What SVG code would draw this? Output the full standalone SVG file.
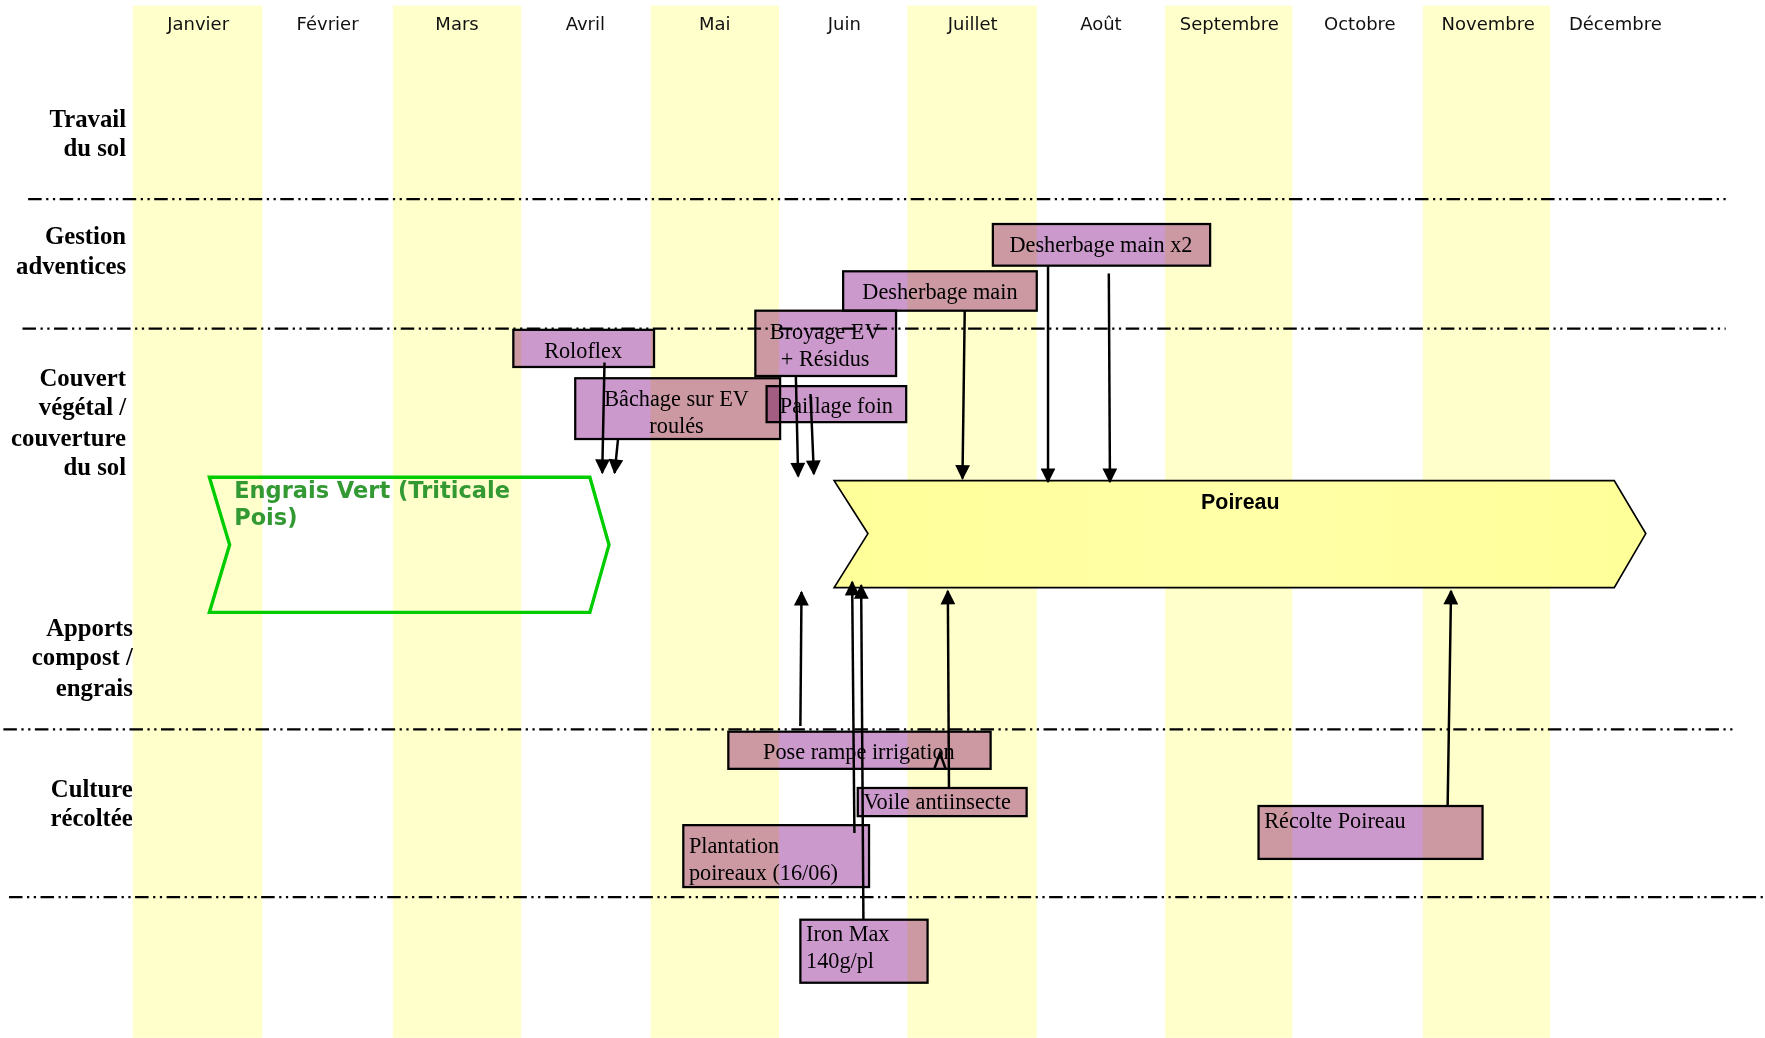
<svg xmlns="http://www.w3.org/2000/svg" width="1765" height="1038" viewBox="0 0 1765 1038">
<defs>
<style>
.band{fill:#FFFFCC}
.month{font-family:"DejaVu Sans",Verdana,sans-serif;font-size:16px;fill:#111;text-anchor:middle}
.row{font-family:"Liberation Serif","Times New Roman",serif;font-weight:bold;font-size:22px;fill:#000;text-anchor:end}
.sep{stroke:#000;stroke-width:2;stroke-dasharray:12 4 2 4 2 4;fill:none}
.box{fill:#CC99CC;stroke:#000;stroke-width:2;mix-blend-mode:multiply}
.bt{font-family:"Liberation Serif","Times New Roman",serif;font-size:19.8px;fill:#000}
.c{text-anchor:middle}
.arr{stroke:#000;stroke-width:2.2;fill:none;marker-end:url(#ah)}
.ev{font-family:"DejaVu Sans",Verdana,sans-serif;font-weight:bold;font-size:20px;fill:#339933}
</style>
<marker id="ah" viewBox="0 0 10 10" refX="9" refY="5" markerWidth="6.5" markerHeight="6" markerUnits="strokeWidth" orient="auto">
<path d="M0,0 L10,5 L0,10 z" fill="#000"/>
</marker>
<linearGradient id="yg" x1="0" y1="0" x2="1" y2="0">
<stop offset="0" stop-color="#FFFF99"/>
<stop offset="0.5" stop-color="#FFFFA8"/>
<stop offset="1" stop-color="#FFFF99"/>
</linearGradient>
</defs>
<rect width="1765" height="1038" fill="#fff"/>
<g transform="scale(1.1257)">
<g id="bands">
<rect class="band" x="118" y="5" width="115" height="917"/>
<rect class="band" x="349" y="5" width="114" height="917"/>
<rect class="band" x="578" y="5" width="114" height="917"/>
<rect class="band" x="806" y="5" width="115" height="917"/>
<rect class="band" x="1035" y="5" width="113" height="917"/>
<rect class="band" x="1264" y="5" width="113" height="917"/>
</g>
<g id="months">
<text class="month" x="176" y="27">Janvier</text>
<text class="month" x="291" y="27">Février</text>
<text class="month" x="406" y="27">Mars</text>
<text class="month" x="520" y="27">Avril</text>
<text class="month" x="635" y="27">Mai</text>
<text class="month" x="750" y="27">Juin</text>
<text class="month" x="864" y="27">Juillet</text>
<text class="month" x="978" y="27">Août</text>
<text class="month" x="1092" y="27">Septembre</text>
<text class="month" x="1208" y="27">Octobre</text>
<text class="month" x="1322" y="27">Novembre</text>
<text class="month" x="1435" y="27">Décembre</text>
</g>
<g id="row-labels">
<text class="row" x="112" y="113">Travail</text>
<text class="row" x="112" y="139">du sol</text>
<text class="row" x="112" y="217">Gestion</text>
<text class="row" x="112" y="243">adventices</text>
<text class="row" x="112" y="343">Couvert</text>
<text class="row" x="112" y="369">végétal /</text>
<text class="row" x="112" y="396">couverture</text>
<text class="row" x="112" y="422">du sol</text>
<text class="row" x="118" y="565">Apports</text>
<text class="row" x="118" y="591">compost /</text>
<text class="row" x="118" y="618">engrais</text>
<text class="row" x="118" y="708">Culture</text>
<text class="row" x="118" y="734">récoltée</text>
</g>
<g id="separators">
<line class="sep" x1="25" y1="177" x2="1537" y2="177"/>
<line class="sep" x1="20" y1="292" x2="1533" y2="292"/>
<line class="sep" x1="3" y1="648" x2="1540" y2="648"/>
<line class="sep" x1="8" y1="797" x2="1568" y2="797"/>
</g>
<g id="engrais-vert">
<polygon points="186,424 524,424 541,484 524,544 186,544 204,484" fill="none" stroke="#00CC00" stroke-width="3"/>
<text class="ev" x="208" y="442">Engrais Vert (Triticale</text>
<text class="ev" x="208" y="466">Pois)</text>
</g>
<g id="poireau">
<polygon points="741,427 1434,427 1462,474 1434,522 741,522 771,474" fill="url(#yg)" stroke="#000" stroke-width="1.5"/>
<text x="1067" y="452" font-family="'Liberation Sans',Arial,sans-serif" font-weight="bold" font-size="19" fill="#000">Poireau</text>
</g>
<g id="desherbage-x2">
<rect class="box" x="882" y="199" width="193" height="37"/>
<text class="bt c" x="978" y="224">Desherbage main x2</text>
</g>
<g id="desherbage">
<rect class="box" x="749" y="241" width="172" height="35"/>
<text class="bt c" x="835" y="266">Desherbage main</text>
</g>
<g id="roloflex">
<rect class="box" x="456" y="293" width="125" height="33"/>
<text class="bt c" x="518" y="318">Roloflex</text>
</g>
<g id="bachage">
<rect class="box" x="511" y="336" width="182" height="54"/>
<text class="bt c" x="601" y="361">Bâchage sur EV</text>
<text class="bt c" x="601" y="385">roulés</text>
</g>
<g id="broyage">
<rect class="box" x="671" y="276" width="125" height="58"/>
<text class="bt c" x="733" y="301">Broyage EV</text>
<text class="bt c" x="733" y="325">+ Résidus</text>
</g>
<g id="paillage">
<rect class="box" x="681" y="343" width="124" height="32"/>
<text class="bt c" x="743" y="367">Paillage foin</text>
</g>
<g id="pose-rampe">
<rect class="box" x="647" y="650" width="233" height="33"/>
<text class="bt c" x="763" y="674">Pose rampe irrigation</text>
</g>
<g id="voile">
<rect class="box" x="762" y="700" width="150" height="25"/>
<text class="bt" x="767" y="719">Voile antiinsecte</text>
</g>
<g id="plantation">
<rect class="box" x="607" y="733" width="165" height="55"/>
<text class="bt" x="612" y="758">Plantation</text>
<text class="bt" x="612" y="782">poireaux (16/06)</text>
</g>
<g id="iron-max">
<rect class="box" x="711" y="817" width="113" height="56"/>
<text class="bt" x="716" y="836">Iron Max</text>
<text class="bt" x="716" y="860">140g/pl</text>
</g>
<g id="recolte">
<rect class="box" x="1118" y="716" width="199" height="47"/>
<text class="bt" x="1123" y="736">Récolte Poireau</text>
</g>
<g id="connectors">
<line class="arr" x1="537" y1="322" x2="535" y2="420"/>
<line class="arr" x1="549" y1="390" x2="546" y2="420"/>
<line class="arr" x1="707" y1="334" x2="709" y2="423"/>
<line class="arr" x1="720" y1="350" x2="723" y2="421"/>
<line class="arr" x1="857" y1="276" x2="855" y2="425"/>
<line class="arr" x1="931" y1="236" x2="931" y2="428"/>
<line class="arr" x1="985" y1="243" x2="986" y2="428"/>
<line class="arr" x1="711" y1="645" x2="712" y2="526"/>
<line class="arr" x1="759" y1="740" x2="757" y2="517"/>
<line class="arr" x1="767" y1="817" x2="765" y2="520"/>
<line class="arr" x1="843" y1="700" x2="842" y2="525"/>
<line class="arr" x1="1286" y1="716" x2="1289" y2="525"/>
<polyline points="830,683 835,669 840,683" fill="none" stroke="#000" stroke-width="2.2"/>
</g>
</g>
</svg>
